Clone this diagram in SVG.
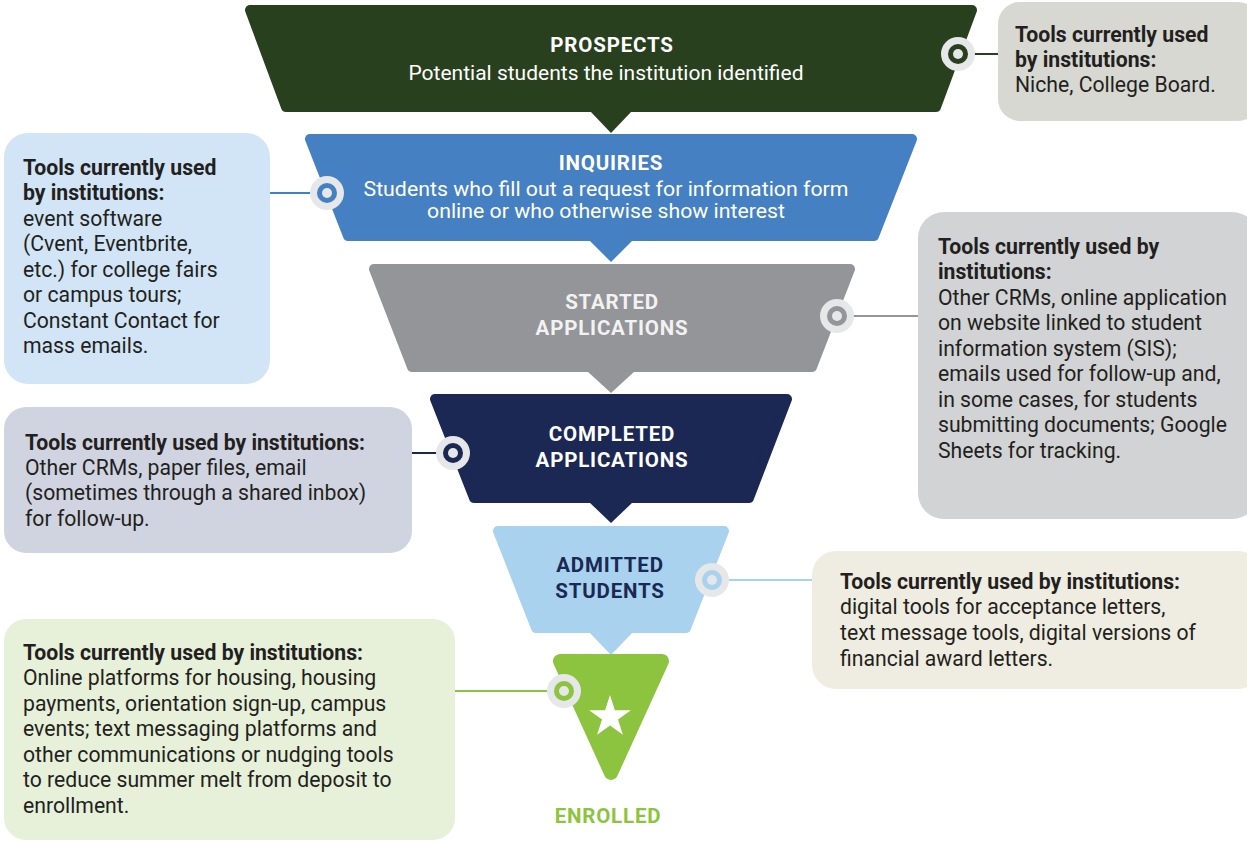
<svg xmlns="http://www.w3.org/2000/svg" width="1247" height="841" viewBox="0 0 1247 841">
<style>
  .box { font-family: Roboto, "Liberation Sans", sans-serif; font-size: 21.2px; fill: #231f20; }
  .b { font-weight: bold; }
  .title { font-family: Roboto, "Liberation Sans", sans-serif; font-size: 20.5px; font-weight: bold; text-anchor: middle; letter-spacing: 0.8px; }
  .sub { font-family: Roboto, "Liberation Sans", sans-serif; font-size: 21px; text-anchor: middle; fill: #ffffff; }
  .ring { fill: #e6e7e8; }
  .dot { fill: #e6e7e8; }
  .conn { stroke-width: 2; fill: none; }
</style>
<rect width="1247" height="841" fill="#ffffff"/>

<g id="connectors">
  <line class="conn" x1="972" y1="54" x2="999" y2="54" stroke="#29401f"/>
  <line class="conn" x1="270" y1="193" x2="312" y2="193" stroke="#4580c3"/>
  <line class="conn" x1="852" y1="316" x2="919" y2="316" stroke="#939598"/>
  <line class="conn" x1="411" y1="453" x2="438" y2="453" stroke="#1b2854"/>
  <line class="conn" x1="727" y1="580" x2="813" y2="580" stroke="#a8d2ee"/>
  <line class="conn" x1="455" y1="691" x2="549" y2="691" stroke="#8dc43f"/>
</g>

<g id="prospects">
  <polygon points="250,10 972,10 936,107 286,107" fill="#29401f" stroke="#29401f" stroke-width="10" stroke-linejoin="round"/>
  <polygon points="590,111 632,111 611,133" fill="#29401f"/>
  <text class="title" x="612" y="52" fill="#ffffff">PROSPECTS</text>
  <text class="sub" x="606" y="80">Potential students the institution identified</text>
  <circle class="ring" cx="958" cy="54" r="17"/>
  <circle cx="958" cy="54" r="10" fill="#29401f"/>
  <circle class="dot" cx="958" cy="54" r="5"/>
</g>
<g id="prospects-tools">
  <rect x="998" y="2" width="262" height="119" rx="22" fill="#d6d8d1"/>
  <text class="box b" x="1015" y="42">Tools currently used</text>
  <text class="box b" x="1015" y="67">by institutions:</text>
  <text class="box" x="1015" y="92">Niche, College Board.</text>
</g>

<g id="inquiries">
  <polygon points="310,139 912,139 874,236 348,236" fill="#4580c3" stroke="#4580c3" stroke-width="10" stroke-linejoin="round"/>
  <polygon points="589,240 633,240 611,262" fill="#4580c3"/>
  <text class="title" x="611" y="170" fill="#ffffff">INQUIRIES</text>
  <text class="sub" x="606" y="196" font-size="18.5" textLength="485" lengthAdjust="spacingAndGlyphs">Students who fill out a request for information form</text>
  <text class="sub" x="606" y="218" font-size="18.5" textLength="358" lengthAdjust="spacingAndGlyphs">online or who otherwise show interest</text>
  <circle class="ring" cx="327" cy="193" r="17"/>
  <circle cx="327" cy="193" r="10" fill="#4580c3"/>
  <circle class="dot" cx="327" cy="193" r="5"/>
</g>
<g id="inquiries-tools">
  <rect x="4" y="133" width="266" height="251" rx="24" fill="#d1e5f6"/>
  <text class="box b" x="23" y="175">Tools currently used</text>
  <text class="box b" x="23" y="200">by institutions:</text>
  <text class="box" x="23" y="226">event software</text>
  <text class="box" x="23" y="251">(Cvent, Eventbrite,</text>
  <text class="box" x="23" y="277">etc.) for college fairs</text>
  <text class="box" x="23" y="302">or campus tours;</text>
  <text class="box" x="23" y="328">Constant Contact for</text>
  <text class="box" x="23" y="353">mass emails.</text>
</g>

<g id="started">
  <polygon points="374,269 850,269 812,367 412,367" fill="#939598" stroke="#939598" stroke-width="10" stroke-linejoin="round"/>
  <polygon points="587,371 635,371 611,393" fill="#939598"/>
  <text class="title" x="612" y="309" fill="#f2f2f2">STARTED</text>
  <text class="title" x="612" y="335" fill="#f2f2f2">APPLICATIONS</text>
  <circle class="ring" cx="837" cy="316" r="17"/>
  <circle cx="837" cy="316" r="10" fill="#939598"/>
  <circle class="dot" cx="837" cy="316" r="5"/>
</g>
<g id="started-tools">
  <rect x="918" y="212" width="340" height="307" rx="26" fill="#d1d3d4"/>
  <text class="box b" x="938" y="254">Tools currently used by</text>
  <text class="box b" x="938" y="279">institutions:</text>
  <text class="box" x="938" y="305">Other CRMs, online application</text>
  <text class="box" x="938" y="330">on website linked to student</text>
  <text class="box" x="938" y="356">information system (SIS);</text>
  <text class="box" x="938" y="381">emails used for follow-up and,</text>
  <text class="box" x="938" y="407">in some cases, for students</text>
  <text class="box" x="938" y="432">submitting documents; Google</text>
  <text class="box" x="938" y="458">Sheets for tracking.</text>
</g>

<g id="completed">
  <polygon points="435,399 787,399 749,498 474,498" fill="#1b2854" stroke="#1b2854" stroke-width="10" stroke-linejoin="round"/>
  <polygon points="589,502 633,502 611,523" fill="#1b2854"/>
  <text class="title" x="612" y="441" fill="#ffffff">COMPLETED</text>
  <text class="title" x="612" y="467" fill="#ffffff">APPLICATIONS</text>
  <circle class="ring" cx="453" cy="453" r="17"/>
  <circle cx="453" cy="453" r="10" fill="#1b2854"/>
  <circle class="dot" cx="453" cy="453" r="5"/>
</g>
<g id="completed-tools">
  <rect x="4" y="407" width="408" height="146" rx="22" fill="#d0d4e0"/>
  <text class="box b" x="25" y="450">Tools currently used by institutions:</text>
  <text class="box" x="25" y="475">Other CRMs, paper files, email</text>
  <text class="box" x="25" y="500">(sometimes through a shared inbox)</text>
  <text class="box" x="25" y="526">for follow-up.</text>
</g>

<g id="admitted">
  <polygon points="498,531 724,531 686,628 536,628" fill="#a8d2ee" stroke="#a8d2ee" stroke-width="10" stroke-linejoin="round"/>
  <polygon points="589,632 633,632 611,655" fill="#a8d2ee"/>
  <text class="title" x="610" y="572" fill="#1b2854">ADMITTED</text>
  <text class="title" x="610" y="598" fill="#1b2854">STUDENTS</text>
  <circle class="ring" cx="712" cy="580" r="17"/>
  <circle cx="712" cy="580" r="10" fill="#a8d2ee"/>
  <circle class="dot" cx="712" cy="580" r="5"/>
</g>
<g id="admitted-tools">
  <rect x="812" y="551" width="450" height="138" rx="24" fill="#efede1"/>
  <text class="box b" x="840" y="589">Tools currently used by institutions:</text>
  <text class="box" x="840" y="614">digital tools for acceptance letters,</text>
  <text class="box" x="840" y="640">text message tools, digital versions of</text>
  <text class="box" x="840" y="666">financial award letters.</text>
</g>

<g id="enrolled">
  <polygon points="560,661 662,661 611,773" fill="#8dc43f" stroke="#8dc43f" stroke-width="14" stroke-linejoin="round"/>
  <polygon points="610,695 614.9,710.2 630.9,710.2 618,719.6 622.9,734.8 610,725.4 597.1,734.8 602,719.6 589.1,710.2 605.1,710.2" fill="#ffffff"/>
  <circle class="ring" cx="564" cy="691" r="17"/>
  <circle cx="564" cy="691" r="10" fill="#8dc43f"/>
  <circle class="dot" cx="564" cy="691" r="5"/>
  <text class="title" x="608" y="823" fill="#8dc43f">ENROLLED</text>
</g>
<g id="enrolled-tools">
  <rect x="4" y="619" width="451" height="221" rx="22" fill="#e7f0d9"/>
  <text class="box b" x="23" y="660">Tools currently used by institutions:</text>
  <text class="box" x="23" y="685">Online platforms for housing, housing</text>
  <text class="box" x="23" y="711">payments, orientation sign-up, campus</text>
  <text class="box" x="23" y="736">events; text messaging platforms and</text>
  <text class="box" x="23" y="762">other communications or nudging tools</text>
  <text class="box" x="23" y="787">to reduce summer melt from deposit to</text>
  <text class="box" x="23" y="813">enrollment.</text>
</g>
</svg>
